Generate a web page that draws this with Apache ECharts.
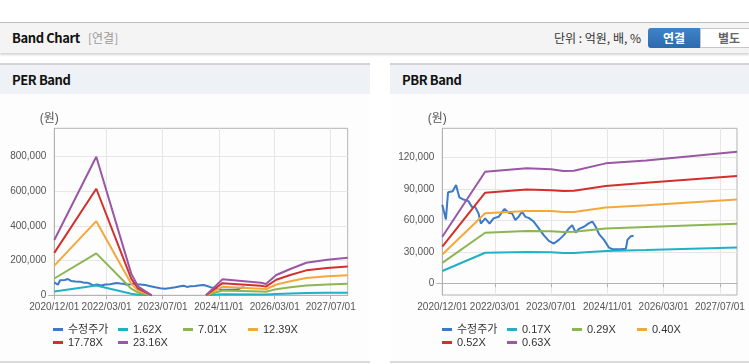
<!DOCTYPE html>
<html><head><meta charset="utf-8">
<script src="https://cdn.jsdelivr.net/npm/echarts@6/dist/echarts.min.js"></script>
<style>
html,body{margin:0;padding:0;width:749px;height:364px;overflow:hidden;background:#fff;font-family:'Noto Sans CJK KR','Noto Sans',sans-serif;}
.abs{position:absolute;}
.topbar{left:0;top:22px;width:749px;height:30px;background:#f4f4f4;border-top:1px solid #bcbcbc;box-shadow:0 2px 2px rgba(0,0,0,0.16);}
.ttl{left:12px;top:0;line-height:30px;font-size:13px;letter-spacing:-0.4px;font-weight:bold;color:#111;}
.sub{left:88px;top:0;line-height:30px;font-size:12px;color:#9a9a9a;}
.unit{right:108px;top:0;line-height:30px;font-size:12px;color:#333;}
.btn1{left:648px;top:5px;width:52px;height:20px;line-height:20px;text-align:center;background:linear-gradient(#3f83c8,#2c6aae);color:#fff;font-size:12px;font-weight:bold;border-radius:3px 0 0 3px;}
.btn2{left:700px;top:5px;width:56px;height:18px;line-height:18px;text-align:center;background:#fff;border:1px solid #c6c6c6;color:#666;font-size:12px;font-weight:bold;}
.ph{top:63px;height:29px;border-top:2px solid #d3d3d3;background:#eef1f6;}
.pht{left:12px;top:0;line-height:29px;font-size:13px;letter-spacing:-0.4px;font-weight:bold;color:#111;}
.pb{top:94px;height:267px;border-bottom:2px solid #dadada;background:#fdfdfd;}
.chart{top:93px;height:269px;}
</style></head>
<body>
<div class="abs topbar">
  <div class="abs ttl">Band Chart</div>
  <div class="abs sub">[연결]</div>
  <div class="abs unit">단위 : 억원, 배, %</div>
  <div class="abs btn1">연결</div>
  <div class="abs btn2">별도</div>
</div>
<div class="abs ph" style="left:0;width:370px;"><div class="abs pht">PER Band</div></div>
<div class="abs ph" style="left:390px;width:359px;"><div class="abs pht">PBR Band</div></div>
<div class="abs pb" style="left:0;width:370px;"></div>
<div class="abs pb" style="left:390px;width:359px;"></div>
<div id="per" class="abs chart" style="left:0;width:370px;"></div>
<div id="pbr" class="abs chart" style="left:390px;width:359px;"></div>
<script>
// ---------- data ----------
const xTickLabels = ['2020/12/01','2022/03/01','2023/07/01','2024/11/01','2026/03/01','2027/07/01'];
const xMin = '2020-12-01';
const xMax = '2027-11-26';

const priceName = '수정주가';
const priceDates = ['2020-12-01','2021-01-01','2021-01-20','2021-03-01','2021-03-30','2021-04-28','2021-06-02','2021-07-15','2021-08-14','2021-09-11','2021-10-10','2021-10-31','2021-12-07','2022-01-14','2022-02-17','2022-04-02','2022-05-24','2022-06-28','2022-07-27','2022-08-25','2022-09-23','2022-10-22','2022-11-20','2022-12-19','2023-01-31','2023-03-16','2023-04-28','2023-06-11','2023-07-24','2023-09-06','2023-10-19','2023-12-02','2023-12-31','2024-01-29','2024-02-27','2024-04-10','2024-05-24','2024-06-22','2024-07-21','2024-08-19','2024-10-01','2024-11-13','2024-12-13','2025-02-23','2025-04-08','2025-04-22','2025-05-21','2025-06-14'];
const priceValues = [75000,61000,87000,88000,94000,82000,80000,78500,73000,73000,67000,57000,62000,57000,62000,63500,71000,67500,67000,60500,63500,68500,63500,62500,59000,52500,46000,40500,38000,41500,46000,52500,55500,48500,52000,54000,57500,59000,54000,47000,41500,34000,32500,32500,33000,41500,45000,45500];

const perNames = ['1.62X','7.01X','12.39X','17.78X','23.16X'];
const perDates = ['2020-12-01','2021-12-01','2022-10-01','2022-12-01','2023-03-28','2023-06-01','2024-07-12','2024-12-01','2025-11-01','2025-12-15','2026-03-15','2026-07-15','2026-12-01','2027-06-01','2027-11-26'];
const per162 = [22000,56000,9000,3500,0,null,0,6500,5000,4500,8000,10500,13000,14500,15000];
const per701 = [97000,242000,38000,15000,0,null,0,28000,22000,20000,35500,46000,57000,62000,66000];
const per1239 = [171000,428000,67000,27000,0,null,0,49000,38500,35000,62500,81000,100000,110000,116000];
const per1778 = [245000,615000,96000,38000,0,null,0,70000,55000,50000,90000,117000,144000,157000,166000];
const per2316 = [319000,800000,125000,50000,0,null,0,92000,72000,65000,117000,152000,188000,205000,217000];
const perYTicks = [0,200000,400000,600000,800000];

const pbrNames = ['0.17X','0.29X','0.40X','0.52X','0.63X'];
const pbrDates = ['2020-12-01','2021-12-07','2022-12-01','2023-07-01','2023-10-15','2024-01-15','2024-10-15','2025-10-01','2027-11-26'];
const pbr017 = [11700,29200,30000,29600,29000,29000,30800,31700,34200];
const pbr029 = [19500,48300,50000,49700,49000,49200,52300,53800,57000];
const pbr040 = [27500,66900,69000,69000,68000,68200,72500,74500,80000];
const pbr052 = [35000,86600,89500,89000,88300,88500,93000,96000,102500];
const pbr063 = [44500,106600,109900,108900,107300,107600,114600,117300,125700];
const pbrYTicks = [0,30000,60000,90000,120000];

const colors = ['#3b79c9','#21b1c6','#8cb652','#f4a83a','#d3302c','#9a57a5'];

// ---------- helpers ----------
const FONT = "Arial, 'Liberation Sans', 'Noto Sans CJK KR', sans-serif";
function ts(s){ const p = s.split(/[-\/]/).map(Number); return Date.UTC(p[0], p[1]-1, p[2]); }
const xTickTs = xTickLabels.map(ts);
function xFmt(v){ for (let i=0;i<xTickTs.length;i++){ if (Math.abs(xTickTs[i]-v) < 3600000) return xTickLabels[i]; } return ''; }
function comma(v){ return String(v).replace(/\B(?=(\d{3})+(?!\d))/g, ','); }
function pairs(d, v){ return d.map((x,i)=>[ts(x), v[i]]); }

function buildOption(cfg){
  const series = [{name: priceName, data: pairs(priceDates, priceValues)}]
    .concat(cfg.names.map((n,i)=>({name:n, data: pairs(cfg.dates, cfg.bands[i])})))
    .map((s,i)=>Object.assign(s,{type:'line', showSymbol:false, symbol:'none', lineStyle:{width:2, color:colors[i]}, itemStyle:{color:colors[i]}, clip:true, connectNulls:false}));
  return {
    animation:false,
    color: colors,
    textStyle:{fontFamily: FONT},
    grid:{left:cfg.left, right:cfg.right, top:35.3, bottom:cfg.bottom, show:true, borderColor:'#b3b3b3', borderWidth:1, backgroundColor:'transparent'},
    legend:{left:cfg.legendLeft, top:230, width:262, padding:0, itemGap:0, itemWidth:10, itemHeight:3, icon:'rect',
      textStyle:{fontSize:11, color:'#333', width:50, lineHeight:13, fontFamily:FONT},
      data:[priceName].concat(cfg.names)},
    xAxis:{type:'value', min:ts(xMin), max:ts(xMax), scale:true,
      axisLine:{show:true, lineStyle:{color:'#b3b3b3'}},
      axisTick:{show:true, customValues:xTickTs, length:4, lineStyle:{color:'#b3b3b3'}},
      axisLabel:{customValues:xTickTs, formatter:xFmt, color:'#555', fontSize:10, margin:7, fontFamily:FONT, hideOverlap:false, showMinLabel:true, showMaxLabel:true},
      splitLine:{show:true, lineStyle:{color:'#e6e6e6'}}},
    yAxis:[{type:'value', min:cfg.yMin, max:cfg.yMax, position:'left',
      name:'(원)', nameLocation:'end', nameGap:10,
      nameTextStyle:{color:'#555', fontSize:12, align:'center', verticalAlign:'middle', padding:[0,10,0,0], fontFamily:FONT},
      axisLine:{show:true, lineStyle:{color:'#b3b3b3'}},
      axisTick:{show:false, customValues:cfg.yTicks},
      axisLabel:{customValues:cfg.yTicks, formatter:comma, color:'#555', fontSize:10, margin:8, fontFamily:FONT},
      splitLine:{show:true, lineStyle:{color:'#e6e6e6'}}},
     {type:'value', min:cfg.yMin, max:cfg.yMax, position:'left',
      axisLine:{show:false}, axisLabel:{show:false}, splitLine:{show:false},
      axisTick:{show:true, customValues:[0], length:6, lineStyle:{color:'#b3b3b3'}}}],
    series
  };
}

const perChart = echarts.init(document.getElementById('per'));
perChart.setOption(buildOption({
  left:54.3, right:22.3, bottom:66.7, legendLeft:53,
  yMin:0, yMax:964000, yTicks:perYTicks,
  names:perNames, dates:perDates, bands:[per162, per701, per1239, per1778, per2316]
}));
const pbrChart = echarts.init(document.getElementById('pbr'));
pbrChart.setOption(buildOption({
  left:52.3, right:12, bottom:67, legendLeft:52,
  yMin:-11200, yMax:148100, yTicks:pbrYTicks,
  names:pbrNames, dates:pbrDates, bands:[pbr017, pbr029, pbr040, pbr052, pbr063]
}));
</script>
</body></html>
